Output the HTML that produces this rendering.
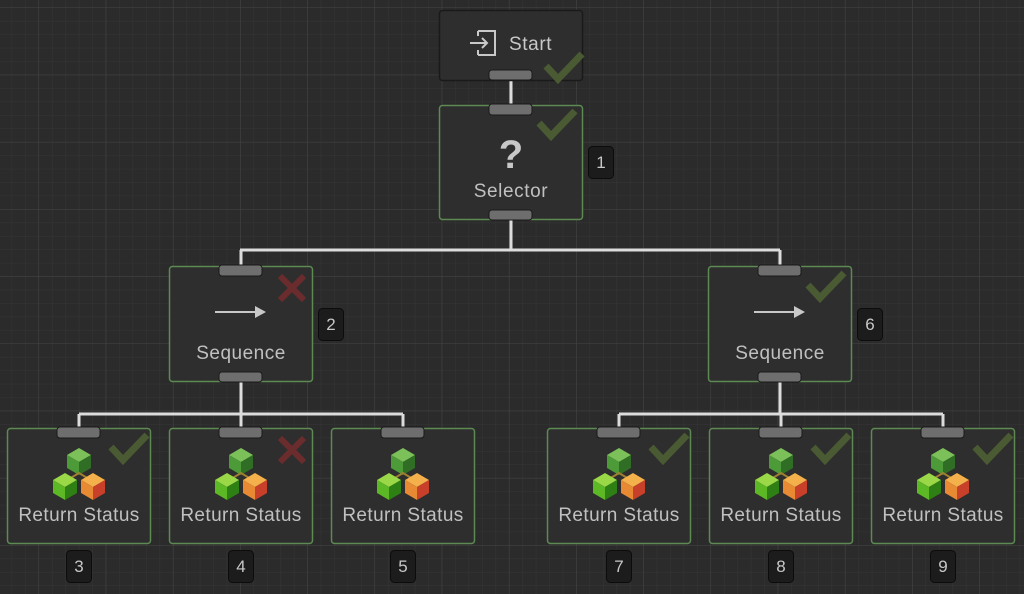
<!DOCTYPE html>
<html><head><meta charset="utf-8"><style>
html,body{margin:0;padding:0;background:#2a2a2a;}
svg{display:block}
text{font-family:"Liberation Sans",sans-serif;}
</style></head><body>
<svg width="1024" height="594" viewBox="0 0 1024 594" xmlns="http://www.w3.org/2000/svg">
<defs>
<pattern id="minor" x="38.5" y="7.5" width="13.44" height="13.44" patternUnits="userSpaceOnUse">
<path d="M0 0H13.44M0 0V13.44" stroke="#353535" stroke-width="1" fill="none"/>
</pattern>
<pattern id="major" x="38.5" y="7.5" width="67.2" height="67.2" patternUnits="userSpaceOnUse">
<path d="M0 0H67.2M0 0V67.2" stroke="#444" stroke-width="1" fill="none"/>
</pattern>
<g id="cubes">
 <g transform="translate(72,461)">
  <polygon points="0,-13 12,-6 0,1 -12,-6" fill="#7cc05a"/>
  <polygon points="-12,-6 0,1 0,14 -12,7" fill="#4c9a38"/>
  <polygon points="12,-6 0,1 0,14 12,7" fill="#2f6e24"/>
 </g>
 <path d="M62 479 L72 473 L82 479" stroke="#a08030" stroke-width="2" fill="none"/>
 <g transform="translate(58,486)">
  <polygon points="0,-13 12,-6 0,1 -12,-6" fill="#9ad848"/>
  <polygon points="-12,-6 0,1 0,14 -12,7" fill="#5cb824"/>
  <polygon points="12,-6 0,1 0,14 12,7" fill="#2f8014"/>
 </g>
 <g transform="translate(86,486)">
  <polygon points="0,-13 12,-6 0,1 -12,-6" fill="#f4b04a"/>
  <polygon points="-12,-6 0,1 0,14 -12,7" fill="#e88a34"/>
  <polygon points="12,-6 0,1 0,14 12,7" fill="#c8402a"/>
 </g>
</g>
<g id="check"><polyline points="0,12 12,25 36,0" fill="none" stroke="#4a5a32" stroke-width="7"/></g>
<g id="cross"><path d="M0 0L24 24M24 0L0 24" stroke="#6a2c2c" stroke-width="6"/></g>
</defs>
<rect width="1024" height="594" fill="#2b2b2b"/>
<rect width="1024" height="594" fill="url(#minor)"/>
<rect width="1024" height="594" fill="url(#major)"/>

<g stroke="#dcdcdc" stroke-width="3" fill="none">
<path d="M511 80V105"/>
<path d="M511 220V250M240 250H780M241 250V266M780 250V266"/>
<path d="M241 382V414M79 414H403M79 414V428M241 414V428M403 414V428"/>
<path d="M780 382V414M619 414H943M619 414V428M781 414V428M943 414V428"/>
</g>

<rect x="439.5" y="10.5" width="143" height="70" rx="3" fill="#2e2e2e" stroke="#1a1a1a" stroke-width="1.5"/>
<g stroke="#c8c8c8" stroke-width="2" fill="none"><path d="M478 31H495V55H478M478 31V36M478 55V50M470 43H487M482 38L487 43L482 48"/></g>
<text x="509" y="50" font-size="19" letter-spacing="0.6" fill="#c8c8c8">Start</text>
<use href="#check" x="546" y="54"/>
<rect x="489" y="70" width="43" height="10" rx="3" fill="#6e6e6e" stroke="#1a1a1a"/>

<rect x="439.5" y="105.5" width="143" height="114" rx="3" fill="#2e2e2e" stroke="#5c8a52" stroke-width="1.5"/>
<rect x="489" y="104" width="43" height="11" rx="3" fill="#6e6e6e" stroke="#1a1a1a"/>
<use href="#check" x="539" y="111"/>
<text x="511" y="168" font-size="40" font-weight="bold" fill="#c8c8c8" text-anchor="middle">?</text>
<text x="511" y="197" font-size="19" letter-spacing="0.6" fill="#c0c0c0" text-anchor="middle">Selector</text>
<rect x="489" y="210" width="43" height="10" rx="3" fill="#6e6e6e" stroke="#1a1a1a"/>
<rect x="588.5" y="146.5" width="25" height="32" rx="4" fill="#1c1c1c" stroke="#0c0c0c"/>
<text x="601" y="168" font-size="17" fill="#c8c8c8" text-anchor="middle">1</text>

<g transform="translate(169,0)">
<rect x="0.5" y="266.5" width="143" height="115" rx="3" fill="#2e2e2e" stroke="#5c8a52" stroke-width="1.5"/>
<rect x="50" y="265" width="43" height="11" rx="3" fill="#6e6e6e" stroke="#1a1a1a"/>
<use href="#cross" x="111" y="276"/>
<path d="M46 312H88" stroke="#c8c8c8" stroke-width="2"/><path d="M86 306L97 312L86 318Z" fill="#c8c8c8"/>
<text x="72" y="359" font-size="19" letter-spacing="0.5" fill="#c0c0c0" text-anchor="middle">Sequence</text>
<rect x="50" y="372" width="43" height="10" rx="3" fill="#6e6e6e" stroke="#1a1a1a"/>
<rect x="149.5" y="308.5" width="25" height="32" rx="4" fill="#1c1c1c" stroke="#0c0c0c"/>
<text x="162" y="330" font-size="17" fill="#c8c8c8" text-anchor="middle">2</text>
</g>
<g transform="translate(708,0)">
<rect x="0.5" y="266.5" width="143" height="115" rx="3" fill="#2e2e2e" stroke="#5c8a52" stroke-width="1.5"/>
<rect x="50" y="265" width="43" height="11" rx="3" fill="#6e6e6e" stroke="#1a1a1a"/>
<use href="#check" x="100" y="273"/>
<path d="M46 312H88" stroke="#c8c8c8" stroke-width="2"/><path d="M86 306L97 312L86 318Z" fill="#c8c8c8"/>
<text x="72" y="359" font-size="19" letter-spacing="0.5" fill="#c0c0c0" text-anchor="middle">Sequence</text>
<rect x="50" y="372" width="43" height="10" rx="3" fill="#6e6e6e" stroke="#1a1a1a"/>
<rect x="149.5" y="308.5" width="25" height="32" rx="4" fill="#1c1c1c" stroke="#0c0c0c"/>
<text x="162" y="330" font-size="17" fill="#c8c8c8" text-anchor="middle">6</text>
</g>

<g transform="translate(7,0)">
<rect x="0.5" y="428.5" width="143" height="115" rx="3" fill="#2e2e2e" stroke="#5c8a52" stroke-width="1.5"/>
<rect x="50" y="427" width="43" height="11" rx="3" fill="#6e6e6e" stroke="#1a1a1a"/>
<use href="#check" x="104" y="435"/><use href="#cubes"/>
<text x="72" y="521" font-size="19" letter-spacing="0.4" fill="#c0c0c0" text-anchor="middle">Return Status</text>
<rect x="59.5" y="550.5" width="25" height="32" rx="4" fill="#1c1c1c" stroke="#0c0c0c"/>
<text x="72" y="572" font-size="17" fill="#c8c8c8" text-anchor="middle">3</text>
</g>
<g transform="translate(169,0)">
<rect x="0.5" y="428.5" width="143" height="115" rx="3" fill="#2e2e2e" stroke="#5c8a52" stroke-width="1.5"/>
<rect x="50" y="427" width="43" height="11" rx="3" fill="#6e6e6e" stroke="#1a1a1a"/>
<use href="#cross" x="111" y="438"/><use href="#cubes"/>
<text x="72" y="521" font-size="19" letter-spacing="0.4" fill="#c0c0c0" text-anchor="middle">Return Status</text>
<rect x="59.5" y="550.5" width="25" height="32" rx="4" fill="#1c1c1c" stroke="#0c0c0c"/>
<text x="72" y="572" font-size="17" fill="#c8c8c8" text-anchor="middle">4</text>
</g>
<g transform="translate(331,0)">
<rect x="0.5" y="428.5" width="143" height="115" rx="3" fill="#2e2e2e" stroke="#5c8a52" stroke-width="1.5"/>
<rect x="50" y="427" width="43" height="11" rx="3" fill="#6e6e6e" stroke="#1a1a1a"/>
<use href="#cubes"/>
<text x="72" y="521" font-size="19" letter-spacing="0.4" fill="#c0c0c0" text-anchor="middle">Return Status</text>
<rect x="59.5" y="550.5" width="25" height="32" rx="4" fill="#1c1c1c" stroke="#0c0c0c"/>
<text x="72" y="572" font-size="17" fill="#c8c8c8" text-anchor="middle">5</text>
</g>
<g transform="translate(547,0)">
<rect x="0.5" y="428.5" width="143" height="115" rx="3" fill="#2e2e2e" stroke="#5c8a52" stroke-width="1.5"/>
<rect x="50" y="427" width="43" height="11" rx="3" fill="#6e6e6e" stroke="#1a1a1a"/>
<use href="#check" x="104" y="435"/><use href="#cubes"/>
<text x="72" y="521" font-size="19" letter-spacing="0.4" fill="#c0c0c0" text-anchor="middle">Return Status</text>
<rect x="59.5" y="550.5" width="25" height="32" rx="4" fill="#1c1c1c" stroke="#0c0c0c"/>
<text x="72" y="572" font-size="17" fill="#c8c8c8" text-anchor="middle">7</text>
</g>
<g transform="translate(709,0)">
<rect x="0.5" y="428.5" width="143" height="115" rx="3" fill="#2e2e2e" stroke="#5c8a52" stroke-width="1.5"/>
<rect x="50" y="427" width="43" height="11" rx="3" fill="#6e6e6e" stroke="#1a1a1a"/>
<use href="#check" x="104" y="435"/><use href="#cubes"/>
<text x="72" y="521" font-size="19" letter-spacing="0.4" fill="#c0c0c0" text-anchor="middle">Return Status</text>
<rect x="59.5" y="550.5" width="25" height="32" rx="4" fill="#1c1c1c" stroke="#0c0c0c"/>
<text x="72" y="572" font-size="17" fill="#c8c8c8" text-anchor="middle">8</text>
</g>
<g transform="translate(871,0)">
<rect x="0.5" y="428.5" width="143" height="115" rx="3" fill="#2e2e2e" stroke="#5c8a52" stroke-width="1.5"/>
<rect x="50" y="427" width="43" height="11" rx="3" fill="#6e6e6e" stroke="#1a1a1a"/>
<use href="#check" x="104" y="435"/><use href="#cubes"/>
<text x="72" y="521" font-size="19" letter-spacing="0.4" fill="#c0c0c0" text-anchor="middle">Return Status</text>
<rect x="59.5" y="550.5" width="25" height="32" rx="4" fill="#1c1c1c" stroke="#0c0c0c"/>
<text x="72" y="572" font-size="17" fill="#c8c8c8" text-anchor="middle">9</text>
</g>
</svg>
</body></html>
